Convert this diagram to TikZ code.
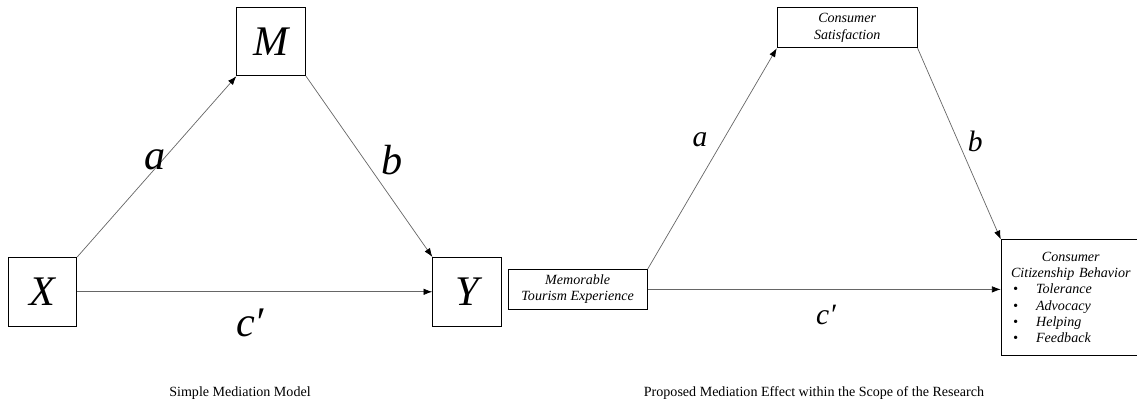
\documentclass[tikz,border=0pt]{standalone}
\usepackage{fontspec}
\setmainfont{Liberation Serif}
\usetikzlibrary{arrows.meta, positioning}

\begin{document}
\begin{tikzpicture}[>={Latex[length=2.2mm, width=1.6mm, color=black]},
  every node/.style={font=\small},
  varbox/.style={draw, line width=0.6pt, minimum width=1.72cm, minimum height=1.72cm,
    inner sep=0pt, font=\fontsize{30}{36}\selectfont\itshape},
  smallbox/.style={draw, line width=0.6pt, minimum width=3.48cm, minimum height=0.99cm,
    inner sep=0pt, align=center, font=\fontsize{10}{11.5}\selectfont\itshape},
  path/.style={->, draw=black!60, line width=0.5pt},
  biglabel/.style={font=\fontsize{30}{36}\selectfont\itshape},
  midlabel/.style={font=\fontsize{21}{25}\selectfont\itshape},
  caption/.style={font=\fontsize{10}{12}\selectfont}]
  \useasboundingbox (0,0) rectangle (28.425,10.125);

  % simple mediation model
  \node[varbox] (x) at (1.06,2.83) {X};
  \node[varbox] (m) at (6.78,9.09) {M};
  \node[varbox] (y) at (11.68,2.83) {Y};
  \draw[path] (x.north east) -- (m.south west);
  \draw[path] (m.south east) -- (y.north west);
  \draw[path] (x) -- (y);
  \node[biglabel] (la) at (3.88,6.12) {a};
  \node[biglabel] (lb) at (9.8,6.12) {b};
  \node[biglabel] (lc) at (6.25,2.05) {c′};
  \node[caption] (cap1) at (6.0,0.3) {Simple Mediation Model};

  % proposed mediation effect
  \node[smallbox] (mte) at (14.44,2.89) {Memorable\\Tourism Experience};
  \node[smallbox, minimum width=3.5cm, minimum height=1.0cm] (cs) at (21.18,9.43) {Consumer\\Satisfaction};
  \node[draw, line width=0.6pt, minimum width=3.48cm, minimum height=2.88cm, inner sep=0pt,
    text width=3.48cm, font=\fontsize{10}{11.5}\selectfont\itshape] (ccb) at (26.77,2.69)
    {\centering Consumer\\Citizenship Behavior\par\raggedright
     \hspace*{0.3cm}\textbullet\hspace{0.45cm}Tolerance\\
     \hspace*{0.3cm}\textbullet\hspace{0.45cm}Advocacy\\
     \hspace*{0.3cm}\textbullet\hspace{0.45cm}Helping\\
     \hspace*{0.3cm}\textbullet\hspace{0.45cm}Feedback\par};
  \draw[path] (mte.north east) -- (cs.south west);
  \draw[path] (cs.south east) -- (ccb.north west);
  \draw[path] (mte.east) -- (mte.east -| ccb.west);
  \node[midlabel] (ra) at (17.5,6.62) {a};
  \node[midlabel] (rb) at (24.38,6.58) {b};
  \node[midlabel] (rc) at (20.65,2.25) {c′};
  \node[caption] (cap2) at (20.35,0.3) {Proposed Mediation Effect within the Scope of the Research};
\end{tikzpicture}
\end{document}
